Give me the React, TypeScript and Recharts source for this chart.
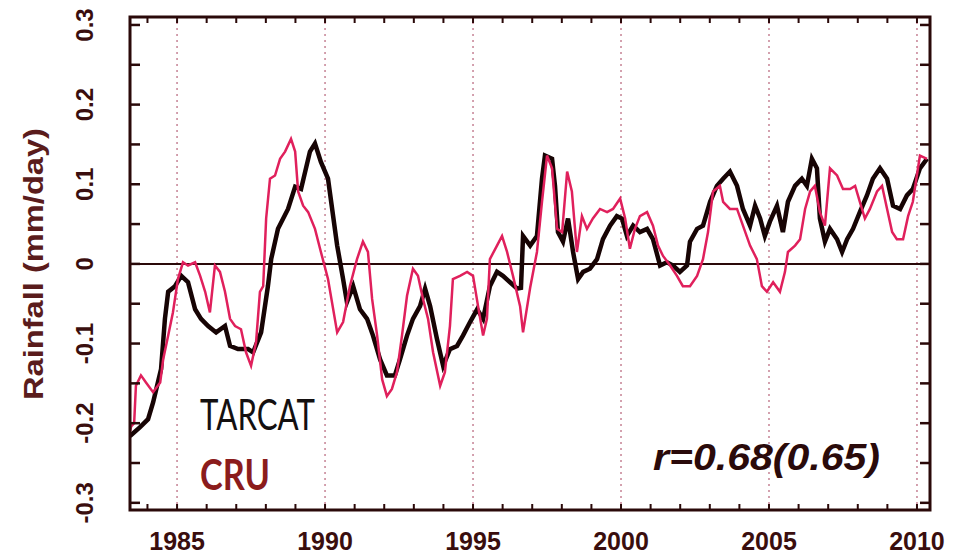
import React from "react";
import { LineChart, Line, XAxis, YAxis, ReferenceLine } from "recharts";

// TARCAT running-mean rainfall anomaly (mm/day)
const tarcatYears = [
  1983.41, 1983.75, 1984.02, 1984.19, 1984.46, 1984.59, 1984.7, 1984.93, 1985.14, 1985.37,
  1985.61, 1985.81, 1986.05, 1986.32, 1986.62, 1986.79, 1987.06, 1987.4, 1987.57, 1987.84,
  1988.07, 1988.18, 1988.41, 1988.75, 1988.99, 1989.19, 1989.49, 1989.66, 1989.86, 1990.1,
  1990.41, 1990.61, 1990.74, 1990.95, 1991.18, 1991.42, 1991.62, 1991.86, 1992.09, 1992.36,
  1992.53, 1992.77, 1992.97, 1993.21, 1993.38, 1993.55, 1993.78, 1993.99, 1994.22, 1994.46,
  1994.66, 1994.9, 1995.14, 1995.34, 1995.57, 1995.81, 1996.01, 1996.25, 1996.49, 1996.62,
  1996.69, 1996.93, 1997.16, 1997.33, 1997.43, 1997.67, 1997.77, 1997.87, 1998.04, 1998.21,
  1998.38, 1998.55, 1998.72, 1998.95, 1999.19, 1999.39, 1999.63, 1999.86, 2000.03, 2000.2,
  2000.41, 2000.64, 2000.88, 2001.08, 2001.32, 2001.55, 2001.76, 2001.99, 2002.23, 2002.33,
  2002.57, 2002.77, 2003.01, 2003.24, 2003.45, 2003.68, 2003.92, 2004.12, 2004.36, 2004.53,
  2004.7, 2004.86, 2005.03, 2005.27, 2005.47, 2005.64, 2005.88, 2006.11, 2006.28, 2006.45,
  2006.62, 2006.72, 2006.89, 2007.06, 2007.3, 2007.47, 2007.64, 2007.84, 2008.07, 2008.31,
  2008.51, 2008.75, 2008.99, 2009.19, 2009.43, 2009.66, 2009.86, 2010.1, 2010.34,
];
const tarcatRain = [
  -0.216, -0.205, -0.195, -0.174, -0.132, -0.069, -0.035, -0.028, -0.015, -0.023,
  -0.057, -0.069, -0.078, -0.086, -0.078, -0.103, -0.107, -0.107, -0.111, -0.086,
  -0.028, 0.006, 0.044, 0.069, 0.097, 0.094, 0.141, 0.151, 0.128, 0.107,
  0.023, -0.019, -0.048, -0.028, -0.057, -0.069, -0.09, -0.12, -0.14, -0.14,
  -0.12, -0.09, -0.069, -0.053, -0.031, -0.053, -0.094, -0.128, -0.107, -0.103,
  -0.09, -0.073, -0.057, -0.069, -0.028, -0.01, -0.015, -0.023, -0.031, -0.03,
  0.035, 0.023, 0.035, 0.107, 0.136, 0.132, 0.098, 0.04, 0.028, 0.057,
  0.015, -0.019, -0.01, -0.006, 0.006, 0.031, 0.048, 0.06, 0.057, 0.035,
  0.048, 0.04, 0.044, 0.031, -0.002, 0.002, -0.002, -0.01, -0.002, 0.028,
  0.044, 0.048, 0.078, 0.098, 0.107, 0.116, 0.098, 0.069, 0.048, 0.073,
  0.057, 0.035, 0.053, 0.073, 0.04, 0.078, 0.098, 0.107, 0.098, 0.132,
  0.12, 0.057, 0.028, 0.044, 0.031, 0.015, 0.031, 0.044, 0.065, 0.086,
  0.107, 0.12, 0.107, 0.073, 0.069, 0.086, 0.094, 0.12, 0.132,
];

// CRU running-mean rainfall anomaly (mm/day)
const cruYears = [
  1983.41, 1983.45, 1983.55, 1983.61, 1983.78, 1983.95, 1984.19, 1984.43, 1984.53, 1984.7,
  1984.86, 1985.03, 1985.2, 1985.37, 1985.61, 1985.78, 1985.95, 1986.11, 1986.28, 1986.45,
  1986.62, 1986.79, 1986.96, 1987.16, 1987.33, 1987.5, 1987.67, 1987.8, 1987.91, 1988.01,
  1988.14, 1988.31, 1988.48, 1988.65, 1988.85, 1988.99, 1989.09, 1989.26, 1989.43, 1989.66,
  1989.86, 1990.1, 1990.41, 1990.61, 1990.84, 1991.08, 1991.28, 1991.45, 1991.59, 1991.76,
  1991.93, 1992.09, 1992.26, 1992.43, 1992.6, 1992.77, 1992.97, 1993.14, 1993.31, 1993.48,
  1993.65, 1993.89, 1994.05, 1994.22, 1994.32, 1994.56, 1994.8, 1995.0, 1995.17, 1995.34,
  1995.47, 1995.57, 1995.81, 1995.98, 1996.15, 1996.35, 1996.59, 1996.69, 1996.93, 1997.16,
  1997.33, 1997.5, 1997.67, 1997.84, 1998.01, 1998.18, 1998.34, 1998.51, 1998.68, 1998.85,
  1999.05, 1999.29, 1999.53, 1999.73, 1999.97, 2000.14, 2000.3, 2000.47, 2000.64, 2000.88,
  2001.08, 2001.25, 2001.42, 2001.66, 2001.89, 2002.09, 2002.33, 2002.57, 2002.77, 2002.94,
  2003.11, 2003.34, 2003.45, 2003.68, 2003.92, 2004.12, 2004.36, 2004.59, 2004.76, 2004.93,
  2005.14, 2005.37, 2005.54, 2005.64, 2005.88, 2006.05, 2006.22, 2006.39, 2006.55, 2006.72,
  2006.89, 2007.06, 2007.3, 2007.5, 2007.74, 2007.91, 2008.07, 2008.24, 2008.41, 2008.65,
  2008.82, 2008.99, 2009.16, 2009.32, 2009.53, 2009.7, 2009.86, 2010.1, 2010.34,
];
const cruRain = [
  -0.21, -0.204, -0.2, -0.153, -0.14, -0.149, -0.161, -0.149, -0.12, -0.09,
  -0.061, -0.019, 0.002, -0.002, 0.002, -0.015, -0.035, -0.061, -0.002, -0.01,
  -0.035, -0.069, -0.078, -0.082, -0.111, -0.128, -0.098, -0.035, -0.028, 0.057,
  0.107, 0.111, 0.132, 0.141, 0.157, 0.141, 0.091, 0.073, 0.065, 0.044,
  0.015, -0.019, -0.086, -0.073, -0.028, 0.006, 0.028, 0.015, -0.044, -0.09,
  -0.145, -0.166, -0.157, -0.136, -0.09, -0.04, -0.006, -0.015, -0.044, -0.069,
  -0.111, -0.153, -0.136, -0.078, -0.019, -0.015, -0.01, -0.015, -0.053, -0.09,
  -0.069, 0.006, 0.023, 0.035, 0.015, -0.015, -0.053, -0.086, -0.03, 0.015,
  0.078, 0.136, 0.12, 0.044, 0.04, 0.116, 0.091, 0.015, 0.06, 0.044,
  0.057, 0.069, 0.065, 0.069, 0.082, 0.057, 0.019, 0.044, 0.06, 0.065,
  0.048, 0.023, 0.01, -0.002, -0.015, -0.028, -0.028, -0.015, 0.006, 0.04,
  0.091, 0.098, 0.078, 0.069, 0.069, 0.048, 0.023, 0.006, -0.028, -0.035,
  -0.023, -0.035, -0.01, 0.015, 0.023, 0.031, 0.069, 0.091, 0.098, 0.065,
  0.048, 0.12, 0.111, 0.094, 0.094, 0.098, 0.078, 0.057, 0.069, 0.091,
  0.098, 0.069, 0.04, 0.031, 0.031, 0.06, 0.078, 0.136, 0.132,
];

const xDomain = [1983.41, 2010.44];
const yDomain = [-0.309, 0.31];
const yearTicks = [
  1984, 1985, 1986, 1987, 1988, 1989, 1990, 1991, 1992, 1993, 1994, 1995, 1996, 1997,
  1998, 1999, 2000, 2001, 2002, 2003, 2004, 2005, 2006, 2007, 2008, 2009, 2010,
];
const gridYears = [1985, 1990, 1995, 2000, 2005, 2010];
const rainTicks = [-0.3, -0.25, -0.2, -0.15, -0.1, -0.05, 0, 0.05, 0.1, 0.15, 0.2, 0.25, 0.3];

const tarcatData = tarcatYears.map((t, i) => ({ t, v: tarcatRain[i] }));
const cruData = cruYears.map((t, i) => ({ t, v: cruRain[i] }));

const W = 957;
const H = 554;
const MARGIN = { top: 17, right: 27, bottom: 0, left: 70 };
const Y_AXIS_W = 60;
const X_AXIS_H = 44;
const PLOT_X = MARGIN.left + Y_AXIS_W;
const PLOT_Y = MARGIN.top;
const PLOT_W = W - MARGIN.left - MARGIN.right - Y_AXIS_W;
const PLOT_H = H - MARGIN.top - MARGIN.bottom - X_AXIS_H;

const FRAME = "#2a0909";
const LABEL = "#3a0e0e";
const FONT = "'Liberation Sans', Arial, sans-serif";

// year tick: inward marks on the bottom and top edges, label every 5 years
function YearTick(props: any) {
  const { x, y, payload } = props;
  const major = payload.value % 5 === 0;
  return (
    <g>
      <rect x={x - 1} y={y - 6} width={2} height={6} fill={FRAME} />
      <rect x={x - 1} y={y - PLOT_H} width={2} height={6} fill={FRAME} />
      {major && (
        <text x={x} y={y + 40} textAnchor="middle" fontFamily={FONT} fontWeight="bold" fontSize={25} fill={LABEL}>
          {String(payload.value)}
        </text>
      )}
    </g>
  );
}

// rainfall tick: inward marks on the left and right edges, rotated label every 0.1
function RainTick(props: any) {
  const { x, y, payload } = props;
  const v = payload.value;
  const major = Math.round(v * 100) % 10 === 0;
  const txt = Math.abs(v) < 1e-9 ? "0" : v.toFixed(1);
  return (
    <g>
      <rect x={x} y={y - 1.25} width={10} height={2.5} fill={FRAME} />
      <rect x={x + PLOT_W - 10} y={y - 1.25} width={10} height={2.5} fill={FRAME} />
      {major && (
        <text
          transform={`translate(${x - 37},${y}) rotate(-90)`}
          textAnchor="middle"
          fontFamily={FONT}
          fontWeight="bold"
          fontSize={24}
          fill={LABEL}
        >
          {txt}
        </text>
      )}
    </g>
  );
}

export default function App() {
  return (
    <div style={{ position: "absolute", left: 0, top: 0, width: W, height: H, background: "#fff" }}>
      <LineChart width={W} height={H} margin={MARGIN}>
        <XAxis
          type="number"
          dataKey="t"
          domain={xDomain}
          allowDataOverflow
          ticks={yearTicks}
          interval={0}
          height={X_AXIS_H}
          tickSize={0}
          tickMargin={0}
          tickLine={false}
          axisLine={false}
          tick={<YearTick />}
        />
        <YAxis
          type="number"
          domain={yDomain}
          allowDataOverflow
          ticks={rainTicks}
          interval={0}
          width={Y_AXIS_W}
          tickSize={0}
          tickMargin={0}
          tickLine={false}
          axisLine={false}
          tick={<RainTick />}
        />
        {gridYears.map((yr) => (
          <ReferenceLine key={yr} x={yr} stroke="#c98a9b" strokeWidth={1.6} strokeDasharray="2 4" />
        ))}
        <ReferenceLine y={0} stroke={FRAME} strokeWidth={2} />
        <Line
          data={tarcatData}
          dataKey="v"
          type="linear"
          stroke="#170404"
          strokeWidth={4.5}
          dot={false}
          isAnimationActive={false}
        />
        <Line
          data={cruData}
          dataKey="v"
          type="linear"
          stroke="#e0205c"
          strokeWidth={2.5}
          dot={false}
          isAnimationActive={false}
        />
      </LineChart>
      <svg width={W} height={H} style={{ position: "absolute", left: 0, top: 0, pointerEvents: "none" }}>
        {/* plot frame */}
        <rect x={PLOT_X} y={PLOT_Y} width={PLOT_W} height={PLOT_H} fill="none" stroke={FRAME} strokeWidth={3} />
        <text
          transform="translate(43,264) rotate(-90)"
          textAnchor="middle"
          fontFamily={FONT}
          fontWeight="bold"
          fontSize={28}
          fill="#5a1c1c"
          textLength={272}
          lengthAdjust="spacingAndGlyphs"
        >
          Rainfall (mm/day)
        </text>
        <text x={200} y={430} fontFamily="Lato, 'Open Sans', sans-serif" fontSize={42} fill="#141010" textLength={115} lengthAdjust="spacingAndGlyphs">
          TARCAT
        </text>
        <text x={200} y={490} fontFamily="Lato, 'Open Sans', sans-serif" fontWeight="bold" fontSize={42} fill="#8b1c1c" textLength={70} lengthAdjust="spacingAndGlyphs">
          CRU
        </text>
        <text
          x={653}
          y={470}
          fontFamily={FONT}
          fontWeight="bold"
          fontStyle="italic"
          fontSize={36}
          fill="#2a0a0a"
          textLength={227}
          lengthAdjust="spacingAndGlyphs"
        >
          r=0.68(0.65)
        </text>
      </svg>
    </div>
  );
}
